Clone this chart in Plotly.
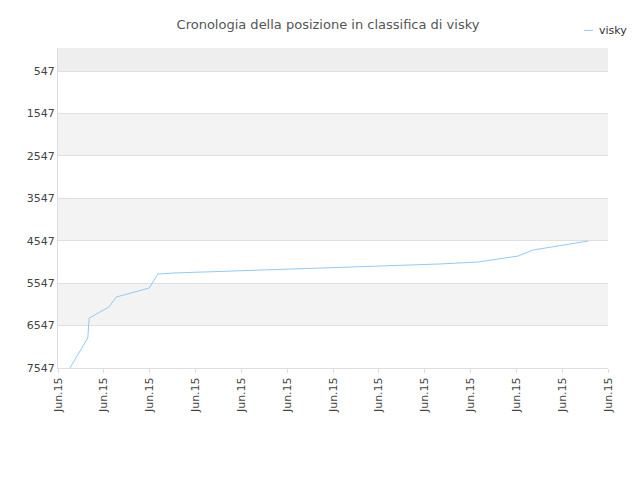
import plotly.graph_objects as go

# position history (x in tick units, y = rank)
x_pos = [0.26, 0.65, 0.68, 1.11, 1.27, 1.99, 2.18, 2.51, 3.16, 3.82, 4.47, 5.13,
         5.67, 6.33, 6.98, 7.64, 8.29, 9.16, 10.04, 10.36, 10.80, 11.13, 11.57]
rank = [7547, 6840, 6370, 6110, 5875, 5663, 5332, 5309, 5285, 5262, 5238, 5215,
        5191, 5168, 5144, 5120, 5097, 5050, 4908, 4767, 4696, 4625, 4554]
y_ticks = [547, 1547, 2547, 3547, 4547, 5547, 6547, 7547]
x_ticks = list(range(13))
x_labels = ["Jun.15"] * 13

fig = go.Figure()
fig.add_trace(go.Scatter(x=x_pos, y=rank, mode="lines", name="visky",
                         line=dict(color="#90caf9", width=1), showlegend=False))

shapes = [dict(type="rect", xref="paper", yref="y", x0=0, x1=1, y0=5, y1=547,
               fillcolor="#eeeeee", line_width=0, layer="below")]
for lo, hi in [(1547, 2547), (3547, 4547), (5547, 6547)]:
    shapes.append(dict(type="rect", xref="paper", yref="y", x0=0, x1=1, y0=lo, y1=hi,
                       fillcolor="#f3f3f3", line_width=0, layer="below"))
# legend drawn by hand so it doesn't push the margins
shapes.append(dict(type="line", xref="paper", yref="paper", x0=0.956, x1=0.973,
                   y0=1.055, y1=1.055, line=dict(color="#90caf9", width=1)))

fig.update_layout(
    width=640, height=480, plot_bgcolor="white", paper_bgcolor="white",
    margin=dict(l=50, r=40, t=40, b=120, autoexpand=False),
    title=dict(text="Cronologia della posizione in classifica di visky", x=0.5, y=0.975,
               font=dict(family="DejaVu Sans", size=13, color="#555")),
    font=dict(family="DejaVu Sans", size=11, color="#444"),
    shapes=shapes,
    annotations=[dict(text="visky", xref="paper", yref="paper", x=0.98, y=1.055,
                      xanchor="left", yanchor="middle", showarrow=False,
                      font=dict(size=11, color="#333"))],
    xaxis=dict(range=[0, 12], tickvals=x_ticks, ticktext=x_labels, tickangle=-90,
               showgrid=False, zeroline=False, showline=True, linecolor="#ddd",
               ticks="outside", ticklen=4, tickcolor="#ddd", automargin=False),
    yaxis=dict(range=[7547, 5], tickvals=y_ticks, showgrid=True, gridcolor="#e0e0e0",
               zeroline=False, showline=True, linecolor="#ddd", automargin=False),
)
fig.write_html("out.html")
